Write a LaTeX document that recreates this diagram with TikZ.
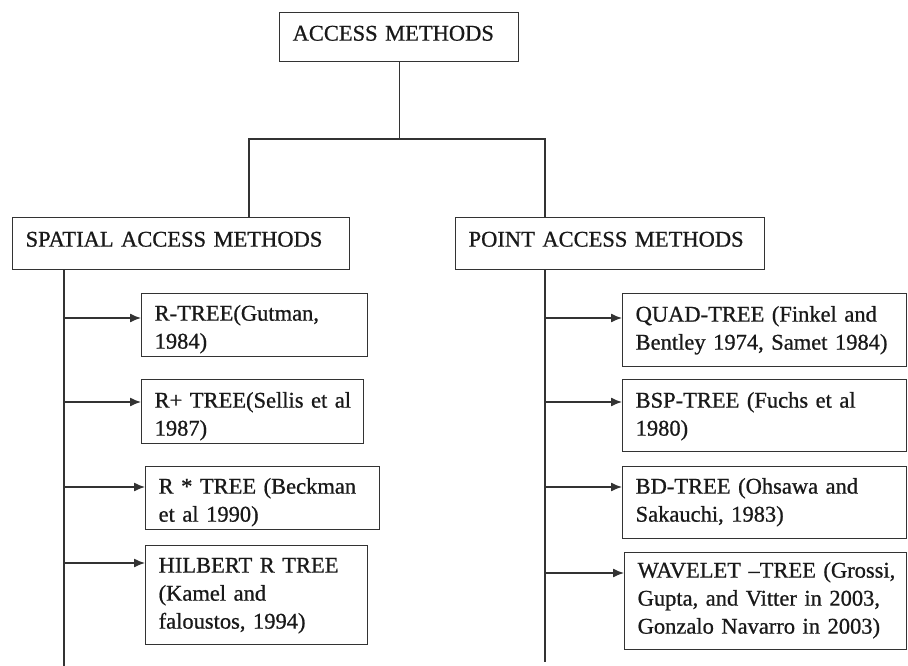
\documentclass[tikz,border=0pt]{standalone}
\usepackage{fontspec}
\setmainfont{Liberation Serif}[FakeBold=0.8]
\usetikzlibrary{arrows.meta}

\begin{document}
\begin{tikzpicture}[x=1pt, y=-1pt, line width=1.3pt, color=black!80,
    every node/.style={font=\fontsize{22.5}{28}\selectfont, text=black!90},
    box/.style={draw, anchor=north west, inner xsep=13pt, inner ysep=0pt,
      execute at begin node={\rightskip=0pt minus 60pt}},
    feed/.style={-{Latex[length=11pt, width=9pt]}}]
  \useasboundingbox (0,0) rectangle (908,666);
  % headings
  \node[box, text width=213pt, text height=28pt, text depth=21pt] (top) at (279,12) {ACCESS METHODS};
  \node[box, text width=311pt, text height=29pt, text depth=23pt] (spa) at (12,217) {SPATIAL ACCESS METHODS};
  \node[box, text width=283pt, text height=29pt, text depth=23pt] (pnt) at (455,217) {POINT ACCESS METHODS};
  % spatial
  \node[box, text width=200pt, text height=27pt, text depth=36pt] (rtree) at (141,293) {R-TREE(Gutman,\\1984)};
  \node[box, text width=196pt, text height=28pt, text depth=36pt] (rplus) at (141,379) {R+ TREE(Sellis et al\\1987)};
  \node[box, text width=208pt, text height=27pt, text depth=36pt] (rstar) at (145,466) {R * TREE (Beckman\\et al 1990)};
  \node[box, text width=196pt, text height=27pt, text depth=72pt] (hilb) at (145,545) {HILBERT R TREE\\(Kamel and\\faloustos, 1994)};
  % point
  \node[box, text width=258pt, text height=28pt, text depth=45pt] (quad) at (622,293) {QUAD-TREE (Finkel and\\Bentley 1974, Samet 1984)};
  \node[box, text width=258pt, text height=28pt, text depth=44pt] (bsp) at (622,379) {BSP-TREE (Fuchs et al\\1980)};
  \node[box, text width=258pt, text height=27pt, text depth=45pt] (bd) at (622,466) {BD-TREE (Ohsawa and\\Sakauchi, 1983)};
  \node[box, text width=256pt, text height=25pt, text depth=72pt] (wave) at (624,552) {WAVELET –TREE (Grossi,\\Gupta, and Vitter in 2003,\\Gonzalo Navarro in 2003)};
  % tree lines
  \coordinate (fork) at (398,139);
  \coordinate (forkL) at (249,139);
  \coordinate (forkR) at (545,139);
  \coordinate (endL) at (64,666);
  \coordinate (endR) at (545,662);
  \draw (top.south) -- (top.south |- fork);
  \draw (forkL |- spa.north) -- (forkL) -- (forkR) -- (forkR |- pnt.north);
  \draw (endL |- spa.south) -- (endL);
  \draw (endR |- pnt.south) -- (endR);
  \foreach \n/\dy in {rtree/25, rplus/23, rstar/21, hilb/18}{
    \path ([yshift=-\dy pt]\n.north west) coordinate (\n-in);
    \draw[feed] (endL |- \n-in) -- (\n-in);
  }
  \foreach \n/\dy in {quad/25, bsp/23, bd/21, wave/21}{
    \path ([yshift=-\dy pt]\n.north west) coordinate (\n-in);
    \draw[feed] (endR |- \n-in) -- (\n-in);
  }
\end{tikzpicture}
\end{document}
